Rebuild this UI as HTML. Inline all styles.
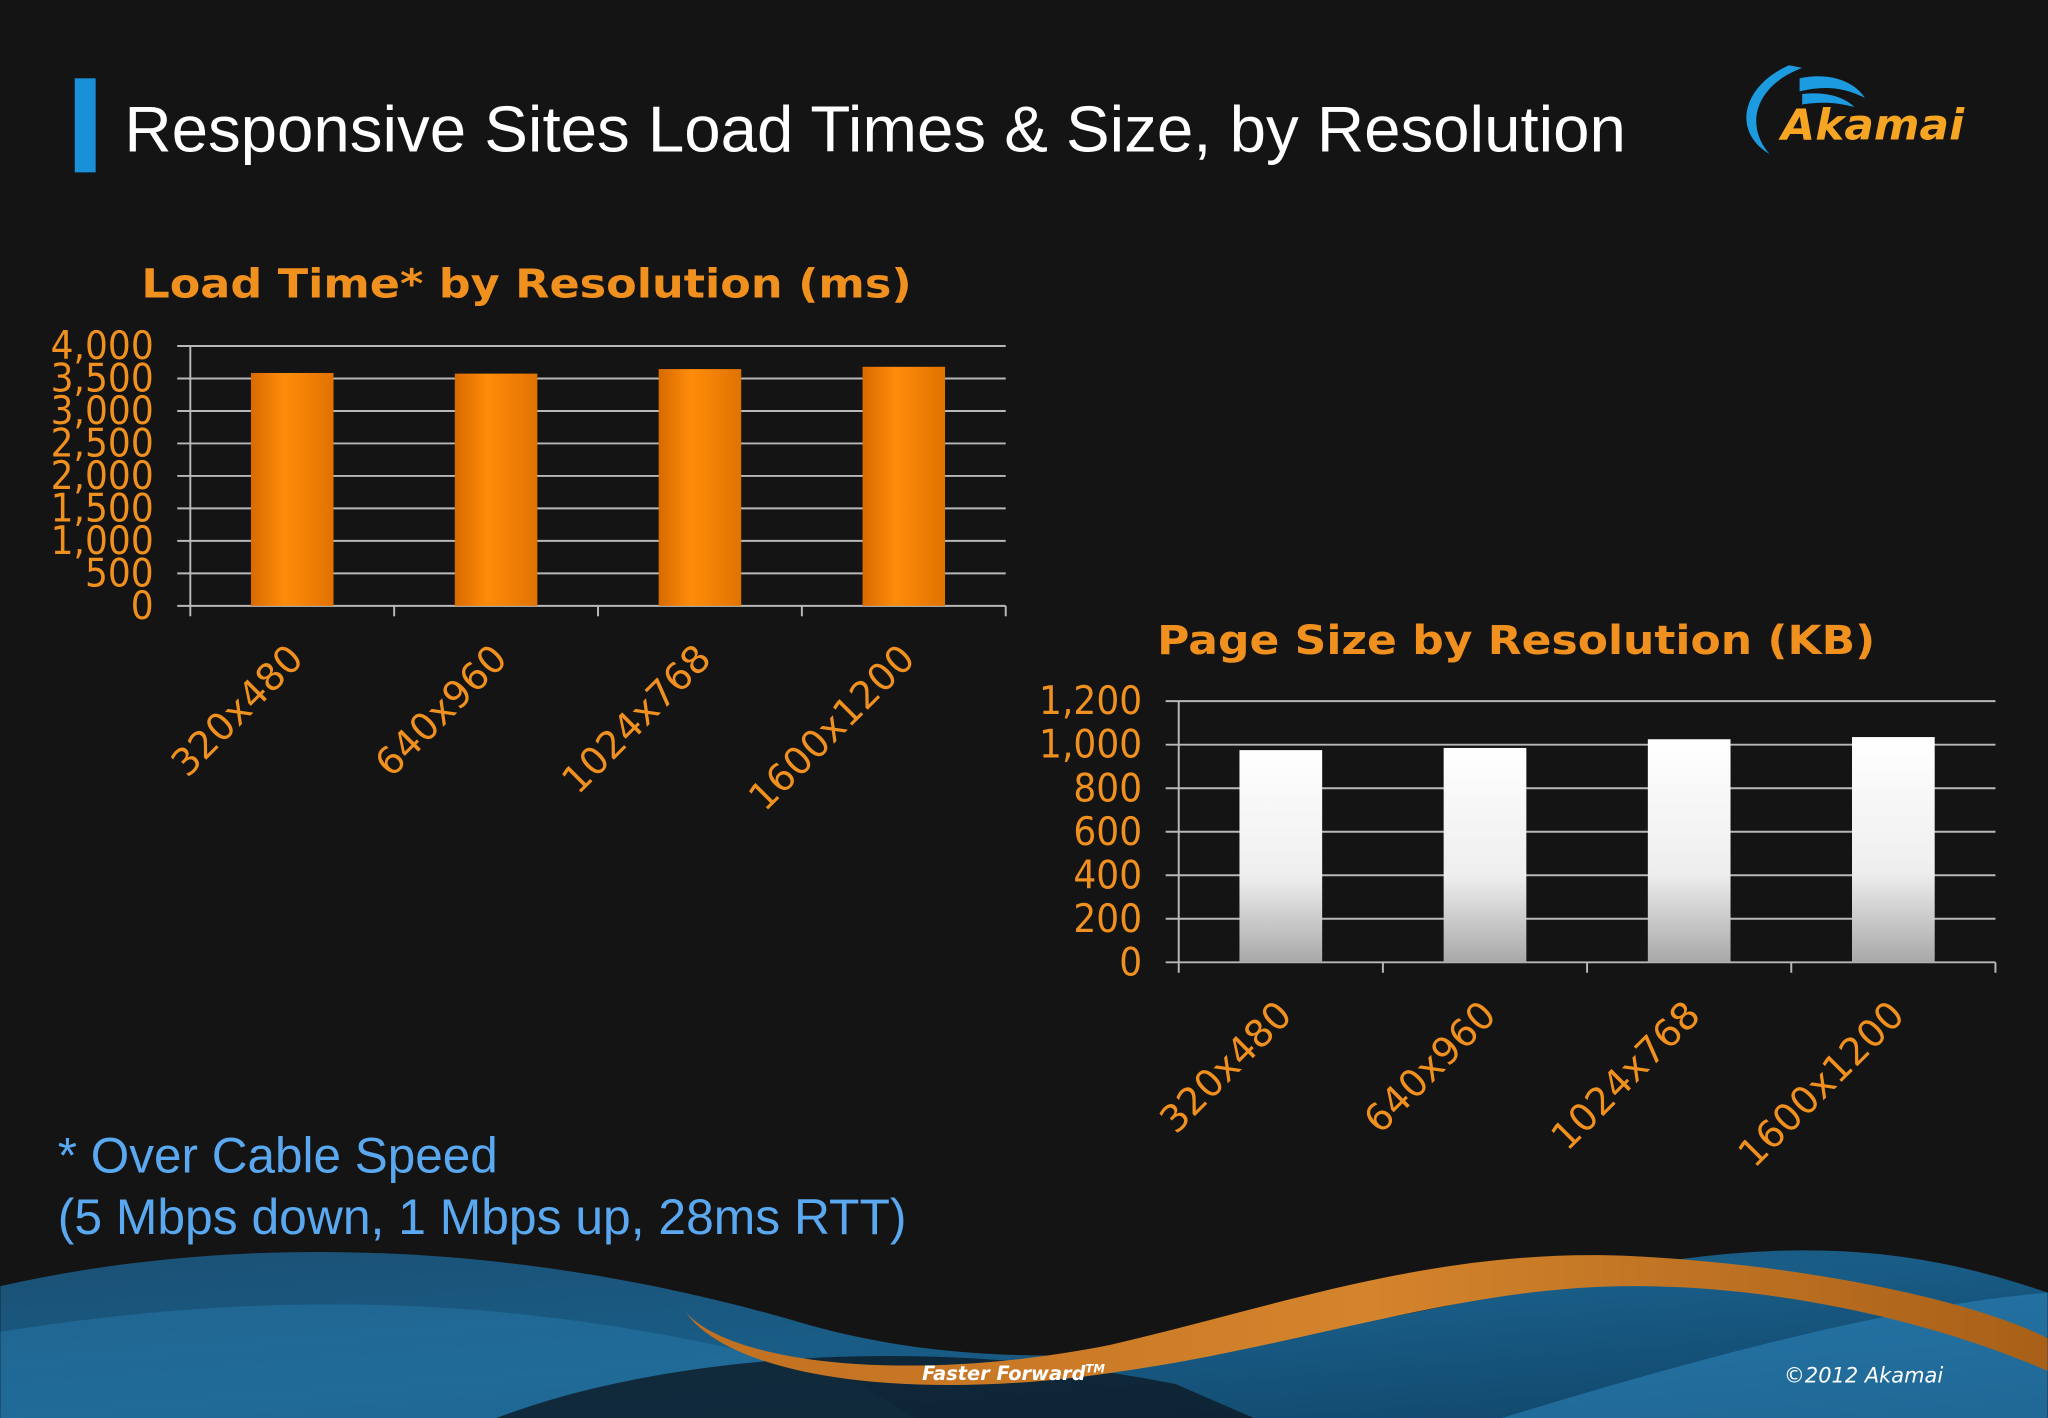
<!DOCTYPE html>
<html><head><meta charset="utf-8"><style>
html,body{margin:0;padding:0;background:#141414;}
svg{display:block;}
text{font-family:"DejaVu Sans","Liberation Sans",sans-serif;}
</style></head><body>
<svg width="2048" height="1418" viewBox="0 0 1568 1086" xmlns="http://www.w3.org/2000/svg">
<defs>
<linearGradient id="og" x1="0" x2="1" y1="0" y2="0">
<stop offset="0" stop-color="#d86a00"/><stop offset="0.4" stop-color="#ff8c0a"/><stop offset="1" stop-color="#e07200"/></linearGradient>
<linearGradient id="wg" x1="0" x2="0" y1="0" y2="1">
<stop offset="0" stop-color="#ffffff"/><stop offset="0.6" stop-color="#eeeeee"/><stop offset="1" stop-color="#a8a8a8"/></linearGradient>
<linearGradient id="bg1" x1="0" x2="1" y1="0" y2="1">
<stop offset="0" stop-color="#1d5f8c"/><stop offset="0.5" stop-color="#1a6fa3"/><stop offset="1" stop-color="#0f4f7c"/></linearGradient>
<linearGradient id="orw" x1="0" x2="1" y1="0" y2="0">
<stop offset="0" stop-color="#c07020"/><stop offset="0.5" stop-color="#d4842c"/><stop offset="1" stop-color="#a86018"/></linearGradient>
</defs>
<rect width="1568" height="1086" fill="#141414"/>
<g>
<path d="M0,985 C200,940 420,955 620,1015 C800,1065 1000,1025 1200,980 C1380,940 1480,960 1568,990 L1568,1086 L0,1086 Z" fill="url(#bg1)" opacity="0.8"/>
<path d="M0,1020 C250,980 450,1000 650,1055 L700,1086 L0,1086 Z" fill="#2a7cb0" opacity="0.45"/>
<path d="M380,1086 C500,1040 700,1020 900,1060 L960,1086 Z" fill="#0c1a26" opacity="0.8"/>
<path d="M1150,1086 C1300,1040 1450,1000 1568,990 L1568,1086 Z" fill="#2f8cc4" opacity="0.5"/>
<path d="M525,1005 C560,1045 700,1060 850,1030 C980,1000 1100,955 1250,962 C1400,970 1520,1000 1568,1025 L1568,1050 C1500,1020 1380,985 1250,985 C1120,985 1000,1030 860,1050 C700,1075 560,1055 525,1005 Z" fill="url(#orw)"/>
</g>
<rect x="57" y="60" width="16" height="72" fill="#1a90d8"/>
<text x="95" y="116" font-size="50" fill="#ffffff" textLength="1150" lengthAdjust="spacingAndGlyphs" style="font-family:'Liberation Sans',sans-serif">Responsive Sites Load Times &amp; Size, by Resolution</text>
<g>
<path d="M1370,50 C1335,65 1325,100 1355,118 C1335,95 1345,65 1380,52 Z" fill="#1d9be0"/>
<path d="M1378,60 C1400,55 1420,62 1428,75 C1410,66 1395,66 1378,70 Z" fill="#1d9be0"/>
<path d="M1380,72 C1398,70 1412,74 1420,82 C1405,78 1393,78 1380,80 Z" fill="#1d9be0"/>
<text x="1364" y="107" font-size="33" font-weight="bold" font-style="italic" fill="#f6a623" textLength="140" lengthAdjust="spacingAndGlyphs">Akamai</text>
</g>
<g id="c1"></g>
<g id="c2"></g>
<text x="44" y="898" font-size="38" fill="#5aa8f0" style="font-family:'Liberation Sans',sans-serif" textLength="337" lengthAdjust="spacingAndGlyphs">* Over Cable Speed</text>
<text x="44" y="945" font-size="38" fill="#5aa8f0" style="font-family:'Liberation Sans',sans-serif" textLength="650" lengthAdjust="spacingAndGlyphs">(5 Mbps down, 1 Mbps up, 28ms RTT)</text>
<text x="706" y="1057" font-size="15" font-weight="bold" font-style="italic" fill="#ffffff" textLength="140" lengthAdjust="spacingAndGlyphs">Faster Forward<tspan font-size="9" dy="-6">TM</tspan></text>
<text x="1366" y="1059" font-size="16" font-style="italic" fill="#ffffff" textLength="122" lengthAdjust="spacingAndGlyphs">©2012 Akamai</text>
</svg>
<script>
const categories = ["320x480","640x960","1024x768","1600x1200"];
const loadTimes = [3585, 3575, 3645, 3680];
const loadTicks = [0,500,1000,1500,2000,2500,3000,3500,4000];
const pageSizes = [975, 985, 1025, 1035];
const sizeTicks = [0,200,400,600,800,1000,1200];
const NS="http://www.w3.org/2000/svg";
function mk(tag,attrs,parent){const e=document.createElementNS(NS,tag);for(const k in attrs)e.setAttribute(k,attrs[k]);parent.appendChild(e);return e;}
function draw(g,cfg){
  const {x0,x1,y0,y1,max,ticks,vals,fill,title,tx,ty,tlen}=cfg;
  const ys=v=>y1-(v/max)*(y1-y0);
  const cw=(x1-x0)/categories.length;
  const t=mk('text',{x:tx,y:ty,'font-size':31,'font-weight':'bold',fill:'#f0901e',textLength:tlen,lengthAdjust:'spacingAndGlyphs'},g);
  t.textContent=title;
  
  
  ticks.forEach(v=>{
    const y=ys(v);
    const l=mk('line',{x1:x0-10,x2:x1,y1:y,y2:y,stroke:'#b8b8b8','stroke-width':1.5},g);
    
    
    const lb=mk('text',{x:0,y:0,'font-size':30,fill:'#f0901e','text-anchor':'end',transform:`translate(${x0-28},${y+10}) scale(0.92,1)`},g);
    lb.textContent=v.toLocaleString('en-US');
    
    
  });
  mk('line',{x1:x0,x2:x0,y1:y0,y2:y1+8,stroke:'#b8b8b8','stroke-width':1.5},g);
  categories.forEach((c,i)=>{
    const tk=mk('line',{x1:x0+cw*(i+1),x2:x0+cw*(i+1),y1:y1,y2:y1+8,stroke:'#b8b8b8','stroke-width':1.5},g);
    
    
    const bw=cw*0.405, cx=x0+cw*(i+0.5);
    const b=mk('rect',{x:cx-bw/2,y:ys(vals[i]),width:bw,height:y1-ys(vals[i]),fill:fill},g);
    
    
    const lb=mk('text',{x:0,y:0,'font-size':29,fill:'#f0901e','text-anchor':'end',transform:`translate(${cx+10},${y1+42}) rotate(-45)`},g);
    lb.textContent=c;
    
    
  });
}
draw(document.getElementById('c1'),{x0:145.5,x1:770,y0:265,y1:464,max:4000,ticks:loadTicks,vals:loadTimes,fill:'url(#og)',title:'Load Time* by Resolution (ms)',tx:108,ty:228,tlen:590});
draw(document.getElementById('c2'),{x0:902.5,x1:1528,y0:537,y1:737,max:1200,ticks:sizeTicks,vals:pageSizes,fill:'url(#wg)',title:'Page Size by Resolution (KB)',tx:886,ty:501,tlen:550});
</script>
</body></html>
